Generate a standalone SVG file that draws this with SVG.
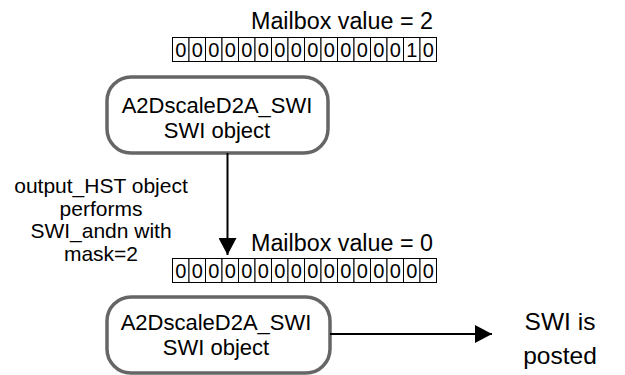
<svg xmlns="http://www.w3.org/2000/svg" width="625" height="375" viewBox="0 0 625 375">
<defs>
<style>
.t{font-family:"Liberation Sans",Arial,sans-serif;fill:#000}
.box{fill:#fff;stroke:#666;stroke-width:3.5}
.cell{fill:#fff;stroke:#000;stroke-width:1}
.bit{font-family:"Liberation Sans",Arial,sans-serif;font-size:20px;text-anchor:middle;fill:#000}
.ln{stroke:#000;stroke-width:2;fill:none}
</style>
<marker id="ah" markerUnits="userSpaceOnUse" markerWidth="18" markerHeight="18" refX="17" refY="9" orient="auto"><path d="M0,0 L17,9 L0,18 Z" fill="#000"/></marker>
</defs>
<rect width="625" height="375" fill="#fff"/>
<g id="mailbox1">
<text class="t" x="251" y="29" font-size="23.3">Mailbox value = 2</text>
<g id="bits1">
<rect class="cell" x="172.5" y="37.5" width="16.5" height="24"/><rect class="cell" x="189" y="37.5" width="16.5" height="24"/><rect class="cell" x="205.5" y="37.5" width="16.5" height="24"/><rect class="cell" x="222" y="37.5" width="16.5" height="24"/><rect class="cell" x="238.5" y="37.5" width="16.5" height="24"/><rect class="cell" x="255" y="37.5" width="16.5" height="24"/><rect class="cell" x="271.5" y="37.5" width="16.5" height="24"/><rect class="cell" x="288" y="37.5" width="16.5" height="24"/><rect class="cell" x="304.5" y="37.5" width="16.5" height="24"/><rect class="cell" x="321" y="37.5" width="16.5" height="24"/><rect class="cell" x="337.5" y="37.5" width="16.5" height="24"/><rect class="cell" x="354" y="37.5" width="16.5" height="24"/><rect class="cell" x="370.5" y="37.5" width="16.5" height="24"/><rect class="cell" x="387" y="37.5" width="16.5" height="24"/><rect class="cell" x="403.5" y="37.5" width="16.5" height="24"/><rect class="cell" x="420" y="37.5" width="16.5" height="24"/>
<text class="bit" y="57"><tspan x="180.75">0</tspan><tspan x="197.25">0</tspan><tspan x="213.75">0</tspan><tspan x="230.25">0</tspan><tspan x="246.75">0</tspan><tspan x="263.25">0</tspan><tspan x="279.75">0</tspan><tspan x="296.25">0</tspan><tspan x="312.75">0</tspan><tspan x="329.25">0</tspan><tspan x="345.75">0</tspan><tspan x="362.25">0</tspan><tspan x="378.75">0</tspan><tspan x="395.25">0</tspan><tspan x="411.75">1</tspan><tspan x="428.25">0</tspan></text>
</g>
</g>
<g id="node1">
<rect class="box" x="107" y="77" width="221" height="76" rx="24"/>
<text class="t" font-size="22" text-anchor="middle"><tspan x="217" y="113">A2DscaleD2A_SWI</tspan><tspan x="217" y="138">SWI object</tspan></text>
</g>
<g id="label">
<text class="t" font-size="21" text-anchor="middle"><tspan x="101" y="193">output_HST object</tspan><tspan x="101" y="215.5">performs</tspan><tspan x="101" y="238">SWI_andn with</tspan><tspan x="101" y="260.5">mask=2</tspan></text>
</g>
<g id="mailbox2">
<text class="t" x="251" y="251" font-size="23.3">Mailbox value = 0</text>
<g id="bits2">
<rect class="cell" x="172.5" y="258.5" width="16.5" height="24"/><rect class="cell" x="189" y="258.5" width="16.5" height="24"/><rect class="cell" x="205.5" y="258.5" width="16.5" height="24"/><rect class="cell" x="222" y="258.5" width="16.5" height="24"/><rect class="cell" x="238.5" y="258.5" width="16.5" height="24"/><rect class="cell" x="255" y="258.5" width="16.5" height="24"/><rect class="cell" x="271.5" y="258.5" width="16.5" height="24"/><rect class="cell" x="288" y="258.5" width="16.5" height="24"/><rect class="cell" x="304.5" y="258.5" width="16.5" height="24"/><rect class="cell" x="321" y="258.5" width="16.5" height="24"/><rect class="cell" x="337.5" y="258.5" width="16.5" height="24"/><rect class="cell" x="354" y="258.5" width="16.5" height="24"/><rect class="cell" x="370.5" y="258.5" width="16.5" height="24"/><rect class="cell" x="387" y="258.5" width="16.5" height="24"/><rect class="cell" x="403.5" y="258.5" width="16.5" height="24"/><rect class="cell" x="420" y="258.5" width="16.5" height="24"/>
<text class="bit" y="278"><tspan x="180.75">0</tspan><tspan x="197.25">0</tspan><tspan x="213.75">0</tspan><tspan x="230.25">0</tspan><tspan x="246.75">0</tspan><tspan x="263.25">0</tspan><tspan x="279.75">0</tspan><tspan x="296.25">0</tspan><tspan x="312.75">0</tspan><tspan x="329.25">0</tspan><tspan x="345.75">0</tspan><tspan x="362.25">0</tspan><tspan x="378.75">0</tspan><tspan x="395.25">0</tspan><tspan x="411.75">0</tspan><tspan x="428.25">0</tspan></text>
</g>
</g>
<g id="node2">
<rect class="box" x="107" y="297" width="223" height="76" rx="24"/>
<text class="t" font-size="22" text-anchor="middle"><tspan x="216" y="330">A2DscaleD2A_SWI</tspan><tspan x="216" y="355">SWI object</tspan></text>
</g>
<g id="posted">
<text class="t" font-size="24.5" text-anchor="middle"><tspan x="560" y="330">SWI is</tspan><tspan x="560" y="364">posted</tspan></text>
</g>
<g id="connectors">
<line class="ln" x1="227.5" y1="153" x2="227.5" y2="255" marker-end="url(#ah)"/>
<line class="ln" x1="330" y1="334" x2="492" y2="334" marker-end="url(#ah)"/>
</g>
</svg>
